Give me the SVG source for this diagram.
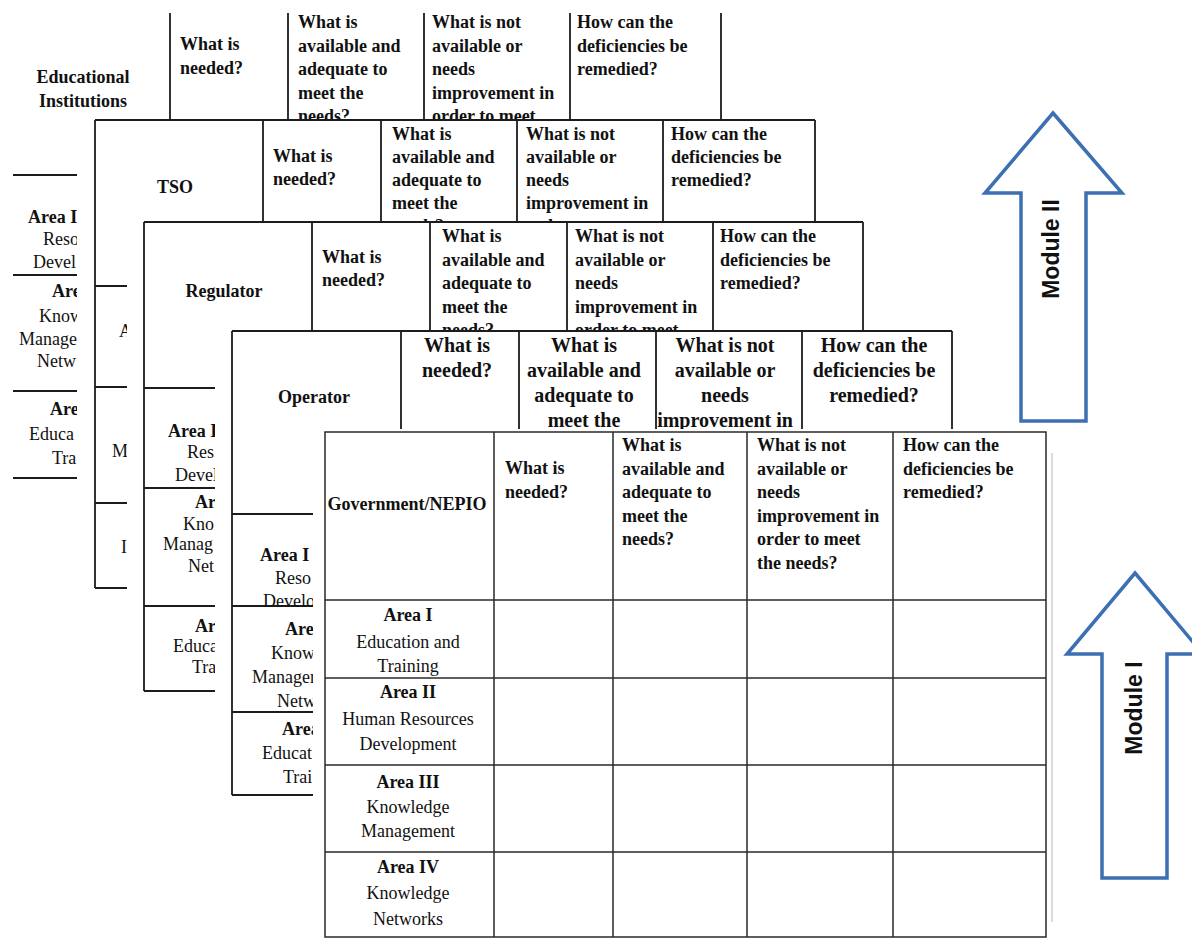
<svg xmlns="http://www.w3.org/2000/svg" width="1192" height="938" viewBox="0 0 1192 938">
<style>
.paper{fill:#fff}
.ln{fill:none;stroke:#1c1c1c;stroke-width:1.8}
.gl{fill:none;stroke:#2a2a2a;stroke-width:1.5}
.shadow{fill:none;stroke:#cfcfcf;stroke-width:1.5}
.b{font-family:"Liberation Serif","Times New Roman",serif;font-weight:bold;font-size:18px;fill:#111}
.r{font-family:"Liberation Serif","Times New Roman",serif;font-size:18px;fill:#111}
.op{font-size:20px;text-anchor:middle}
.c{text-anchor:middle}
.arw{fill:#fff;stroke:#3d6fb3;stroke-width:3.5;stroke-linejoin:miter}
.mod{font-family:"Liberation Sans",Arial,sans-serif;font-weight:bold;font-size:23px;fill:#111;text-anchor:middle}
</style>
<defs>
<clipPath id="hEI"><rect x="0" y="0" width="1192" height="119"/></clipPath>
<clipPath id="rEI"><rect x="0" y="0" width="77" height="938"/></clipPath>
<clipPath id="hTSO"><rect x="0" y="0" width="1192" height="221"/></clipPath>
<clipPath id="rTSO"><rect x="0" y="0" width="127" height="938"/></clipPath>
<clipPath id="hREG"><rect x="0" y="0" width="1192" height="330"/></clipPath>
<clipPath id="rREG"><rect x="0" y="0" width="215" height="938"/></clipPath>
<clipPath id="hOP"><rect x="0" y="0" width="1192" height="429"/></clipPath>
<clipPath id="rOP"><rect x="0" y="0" width="313" height="938"/></clipPath>
</defs>
<rect width="1192" height="938" fill="#fff"/>

<g id="educational-institutions">
<path class="ln" d="M170 13V120M288 13V120M424 13V120M570 13V120M721 13V120M13 175H77M13 275H77M13 391H77M13 478H77"/>
<text class="b c" x="83" y="83">Educational</text>
<text class="b c" x="83" y="107">Institutions</text>
<g clip-path="url(#hEI)">
<text class="b" x="180" y="50">What is<tspan x="180" dy="23.5">needed?</tspan></text>
<text class="b" x="298" y="28">What is<tspan x="298" dy="23.5">available and</tspan><tspan x="298" dy="23.5">adequate to</tspan><tspan x="298" dy="23.5">meet the</tspan><tspan x="298" dy="23.5">needs?</tspan></text>
<text class="b" x="432" y="28">What is not<tspan x="432" dy="23.5">available or</tspan><tspan x="432" dy="23.5">needs</tspan><tspan x="432" dy="23.5">improvement in</tspan><tspan x="432" dy="23.5">order to meet</tspan></text>
<text class="b" x="577" y="28">How can the<tspan x="577" dy="23.5">deficiencies be</tspan><tspan x="577" dy="23.5">remedied?</tspan></text>
</g>
<g clip-path="url(#rEI)">
<text class="b" x="28" y="223">Area I</text>
<text class="r" x="43" y="245">Reso</text>
<text class="r" x="33" y="268">Devel</text>
<text class="b" x="52" y="297">Are</text>
<text class="r" x="39" y="322">Know</text>
<text class="r" x="19" y="345">Manage</text>
<text class="r" x="37" y="367">Netw</text>
<text class="b" x="50" y="415">Are</text>
<text class="r" x="29" y="440">Educa</text>
<text class="r" x="52" y="464">Tra</text>
</g>
</g>

<g id="tso">
<rect class="paper" x="77" y="120" width="755" height="480"/>
<path class="ln" d="M95 120H815M95 120V588M263 120V222M381 120V222M517 120V222M663 120V222M815 120V222M95 286H127M95 387H127M95 503H127M95 588H127"/>
<text class="b c" x="175" y="193">TSO</text>
<g clip-path="url(#hTSO)">
<text class="b" x="273" y="162">What is<tspan x="273" dy="23">needed?</tspan></text>
<text class="b" x="392" y="140">What is<tspan x="392" dy="23">available and</tspan><tspan x="392" dy="23">adequate to</tspan><tspan x="392" dy="23">meet the</tspan><tspan x="392" dy="23">needs?</tspan></text>
<text class="b" x="526" y="140">What is not<tspan x="526" dy="23">available or</tspan><tspan x="526" dy="23">needs</tspan><tspan x="526" dy="23">improvement in</tspan><tspan x="526" dy="23">order to meet</tspan></text>
<text class="b" x="671" y="140">How can the<tspan x="671" dy="23">deficiencies be</tspan><tspan x="671" dy="23">remedied?</tspan></text>
</g>
<g clip-path="url(#rTSO)">
<text class="r" x="119" y="337">A</text>
<text class="r" x="112" y="457">M</text>
<text class="r" x="121" y="553">I</text>
</g>
</g>

<g id="regulator">
<rect class="paper" x="127" y="222" width="750" height="480"/>
<path class="ln" d="M144 222H863M144 222V691M312 222V331M430 222V331M567 222V331M713 222V331M863 222V331M144 388H215M144 488H215M144 606H215M144 691H215"/>
<text class="b c" x="224" y="297">Regulator</text>
<g clip-path="url(#hREG)">
<text class="b" x="322" y="263">What is<tspan x="322" dy="23">needed?</tspan></text>
<text class="b" x="442" y="242">What is<tspan x="442" dy="23.5">available and</tspan><tspan x="442" dy="23.5">adequate to</tspan><tspan x="442" dy="23.5">meet the</tspan><tspan x="442" dy="23.5">needs?</tspan></text>
<text class="b" x="575" y="242">What is not<tspan x="575" dy="23.5">available or</tspan><tspan x="575" dy="23.5">needs</tspan><tspan x="575" dy="23.5">improvement in</tspan><tspan x="575" dy="23.5">order to meet</tspan></text>
<text class="b" x="720" y="242">How can the<tspan x="720" dy="23.5">deficiencies be</tspan><tspan x="720" dy="23.5">remedied?</tspan></text>
</g>
<g clip-path="url(#rREG)">
<text class="b" x="168" y="437">Area I</text>
<text class="r" x="187" y="458">Res</text>
<text class="r" x="175" y="481">Devel</text>
<text class="b" x="195" y="508">Are</text>
<text class="r" x="183" y="530">Kno</text>
<text class="r" x="163" y="550">Manag</text>
<text class="r" x="188" y="572">Net</text>
<text class="b" x="195" y="632">Are</text>
<text class="r" x="173" y="652">Educa</text>
<text class="r" x="192" y="673">Tra</text>
</g>
</g>

<g id="operator">
<rect class="paper" x="215" y="331" width="760" height="475"/>
<path class="ln" d="M232 331H952M232 331V795M401 331V440M519 331V440M656 331V440M802 331V440M952 331V440M232 514H313M232 606H313M232 712H313M232 795H313"/>
<text class="b c" x="314" y="403">Operator</text>
<g clip-path="url(#hOP)">
<text class="b op" x="457" y="352">What is<tspan x="457" dy="25">needed?</tspan></text>
<text class="b op" x="584" y="352">What is<tspan x="584" dy="25">available and</tspan><tspan x="584" dy="25">adequate to</tspan><tspan x="584" dy="25">meet the</tspan></text>
<text class="b op" x="725" y="352">What is not<tspan x="725" dy="25">available or</tspan><tspan x="725" dy="25">needs</tspan><tspan x="725" dy="25">improvement in</tspan></text>
<text class="b op" x="874" y="352">How can the<tspan x="874" dy="25">deficiencies be</tspan><tspan x="874" dy="25">remedied?</tspan></text>
</g>
<g clip-path="url(#rOP)">
<text class="b" x="260" y="561">Area I</text>
<text class="r" x="275" y="584">Reso</text>
<text class="r" x="263" y="607">Develo</text>
<text class="b" x="285" y="635">Are</text>
<text class="r" x="271" y="659">Know</text>
<text class="r" x="252" y="683">Manager</text>
<text class="r" x="277" y="707">Netw</text>
<text class="b" x="282" y="735">Area</text>
<text class="r" x="262" y="759">Educat</text>
<text class="r" x="283" y="783">Trai</text>
</g>
</g>

<g id="government-nepio">
<rect class="paper" x="313" y="429" width="739" height="509"/>
<path class="shadow" d="M1052 453V922"/>
<rect class="gl" x="325" y="432" width="721" height="505"/>
<path class="gl" d="M494 432V937M613 432V937M747 432V937M893 432V937M325 600H1046M325 678H1046M325 765H1046M325 852H1046"/>
<text class="b c" x="407" y="510">Government/NEPIO</text>
<text class="b" x="505" y="474">What is<tspan x="505" dy="23.5">needed?</tspan></text>
<text class="b" x="622" y="451">What is<tspan x="622" dy="23.5">available and</tspan><tspan x="622" dy="23.5">adequate to</tspan><tspan x="622" dy="23.5">meet the</tspan><tspan x="622" dy="23.5">needs?</tspan></text>
<text class="b" x="757" y="451">What is not<tspan x="757" dy="23.5">available or</tspan><tspan x="757" dy="23.5">needs</tspan><tspan x="757" dy="23.5">improvement in</tspan><tspan x="757" dy="23.5">order to meet</tspan><tspan x="757" dy="23.5">the needs?</tspan></text>
<text class="b" x="903" y="451">How can the<tspan x="903" dy="23.5">deficiencies be</tspan><tspan x="903" dy="23.5">remedied?</tspan></text>
<text class="b c" x="408" y="621">Area I</text>
<text class="r c" x="408" y="648">Education and</text>
<text class="r c" x="408" y="672">Training</text>
<text class="b c" x="408" y="698">Area II</text>
<text class="r c" x="408" y="725">Human Resources</text>
<text class="r c" x="408" y="750">Development</text>
<text class="b c" x="408" y="788">Area III</text>
<text class="r c" x="408" y="813">Knowledge</text>
<text class="r c" x="408" y="837">Management</text>
<text class="b c" x="408" y="873">Area IV</text>
<text class="r c" x="408" y="899">Knowledge</text>
<text class="r c" x="408" y="925">Networks</text>
</g>

<g id="module-ii">
<polygon class="arw" points="1053,113 1122,193 1086,193 1086,421 1021,421 1021,193 985,193"/>
<text class="mod" transform="translate(1059,249) rotate(-90)">Module II</text>
</g>

<g id="module-i">
<polygon class="arw" points="1135,573 1203,654 1167,654 1167,878 1102,878 1102,654 1067,654"/>
<text class="mod" transform="translate(1142,708) rotate(-90)">Module I</text>
</g>
</svg>
